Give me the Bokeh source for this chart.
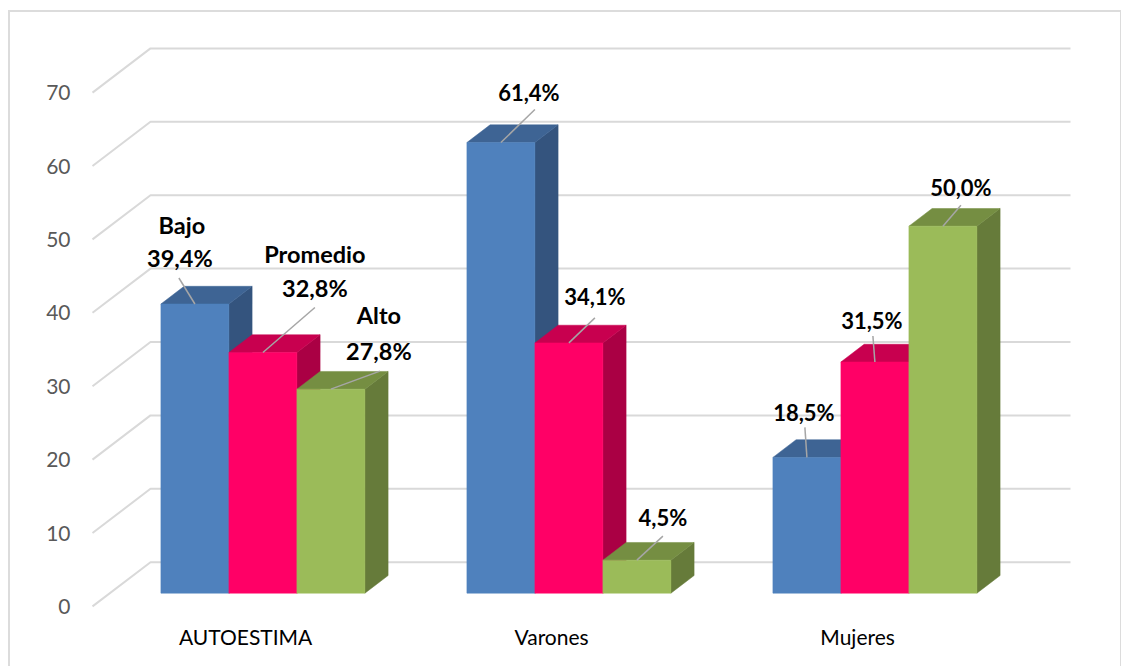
from bokeh.plotting import figure
from bokeh.embed import file_html
from bokeh.resources import INLINE
from bokeh.models import Range1d, LinearAxis, FixedTicker
from bokeh.core.properties import value

categories = ["AUTOESTIMA", "Varones", "Mujeres"]
series_names = ["Bajo", "Promedio", "Alto"]
bajo = [39.4, 61.4, 18.5]
promedio = [32.8, 34.1, 31.5]
alto = [27.8, 4.5, 50.0]
y_ticks = [0, 10, 20, 30, 40, 50, 60, 70]

front_colors = ["#4f81bd", "#ff0066", "#9bbb59"]
top_colors = ["#3e6494", "#c8004f", "#758e42"]
side_colors = ["#34547e", "#aa0044", "#667b3a"]

PX_X = 306.0   # pixels per category
PX_Y = 7.34    # pixels per value unit
ORIGIN_X = 262.4  # page x of first group's centre
ORIGIN_Y = 592.7  # page y of value 0 on the bars' plane
M_L, M_T = 10, 12  # where the figure sits on the page
W, H = 1110, 654
F_L, F_R, F_T, F_B = 80, M_L + W, M_T, 612  # frame on the page


def dx(px):
    return px / PX_X


def dy(px):
    return px / PX_Y


def px_x(page):
    return (page - ORIGIN_X) / PX_X


p = figure(width=W, height=H, output_backend="svg", toolbar_location=None,
           x_range=Range1d(px_x(F_L), px_x(F_R)),
           y_range=Range1d((ORIGIN_Y - F_B) / PX_Y, (ORIGIN_Y - F_T) / PX_Y),
           min_border_left=F_L - M_L, min_border_right=0, min_border_top=0,
           min_border_bottom=M_T + H - F_B, x_axis_location=None, y_axis_location=None)
p.margin = (M_T, 0, 0, M_L)
p.styles = {"box-shadow": "0 0 0 2px #dcdcdc"}
p.grid.visible = False
p.outline_line_color = None
p.background_fill_color = "white"

# Axes live on the front plane of the box, in front of the bars' plane
FRONT_X, FRONT_Y = -17.3, -13.2
BACK_X, BACK_Y = 40.7, 31.0
p.extra_y_ranges["front"] = Range1d(p.y_range.start - dy(FRONT_Y), p.y_range.end - dy(FRONT_Y))
p.extra_x_ranges["front"] = Range1d(p.x_range.start - dx(FRONT_X), p.x_range.end - dx(FRONT_X))

yaxis = LinearAxis(y_range_name="front", ticker=FixedTicker(ticks=y_ticks),
                   axis_line_color=None, major_tick_line_color=None, minor_tick_line_color=None,
                   major_label_text_color="#595959", major_label_text_font="Lato",
                   major_label_text_font_size="21px", major_label_standoff=4)
p.add_layout(yaxis, "left")

xaxis = LinearAxis(x_range_name="front", ticker=FixedTicker(ticks=list(range(len(categories)))),
                   major_label_overrides={i: c for i, c in enumerate(categories)},
                   axis_line_color=None, major_tick_line_color=None, minor_tick_line_color=None,
                   major_label_text_color="#000000", major_label_text_font="Lato",
                   major_label_text_font_size="21px", major_label_standoff=5)
p.add_layout(xaxis, "below")

# Wall / floor grid lines
right_end = px_x(1070)
xs_g, ys_g = [], []
for v in y_ticks:
    xs_g.append([dx(92 - ORIGIN_X), dx(150 - ORIGIN_X), right_end])
    ys_g.append([v + dy(FRONT_Y), v + dy(BACK_Y), v + dy(BACK_Y)])
p.multi_line(xs_g, ys_g, line_color="#d9d9d9", line_width=2)

# Bars as oblique boxes
BAR_W = dx(68.0)
DEPTH_X, DEPTH_Y = dx(23.2), dy(17.7)
values = [bajo, promedio, alto]
for g in range(len(categories)):
    for s, vals in enumerate(values):
        v = vals[g]
        x0 = g + (s - 1.5) * BAR_W
        x1 = x0 + BAR_W
        p.patch([x1, x1 + DEPTH_X, x1 + DEPTH_X, x1], [0, DEPTH_Y, v + DEPTH_Y, v],
                fill_color=side_colors[s], line_color=side_colors[s], line_width=0.5)
        p.patch([x0, x1, x1 + DEPTH_X, x0 + DEPTH_X], [v, v, v + DEPTH_Y, v + DEPTH_Y],
                fill_color=top_colors[s], line_color=top_colors[s], line_width=0.5)
        p.patch([x0, x1, x1, x0], [0, 0, v, v],
                fill_color=front_colors[s], line_color=front_colors[s], line_width=0.5)

# Leader ends relative to each bar's top centre (pixels: right, up)
leader_ends = [[(-16, 26), (52, 45), (49, 18)],
               [(34, 33), (26, 25), (26, 24)],
               [(-2, 30), (-2, 26), (18, 21)]]
# Label centres relative to each bar's top centre (pixels: right, up)
label_pos = [[(-15, 46), (52, 64), (48, 38)],
             [(28, 50), (26, 46), (26, 43)],
             [(-3, 45), (-3, 41), (18, 39)]]
# Series name offsets from the value label in the first group
name_off = [(2, 33), (0, 34), (0, 36)]
group_font = ["23.5px", "22px", "22px"]

leader_x, leader_y, tx, ty, tt, ts = [], [], [], [], [], []
for g in range(len(categories)):
    for s, vals in enumerate(values):
        v = vals[g]
        xc = g + (s - 1) * BAR_W
        ex, ey = leader_ends[g][s]
        leader_x.append([xc, xc + dx(ex)])
        leader_y.append([v, v + dy(ey)])
        lx, ly = label_pos[g][s]
        tx.append(xc + dx(lx))
        ty.append(v + dy(ly))
        tt.append(f"{v:.1f}%".replace(".", ","))
        ts.append(group_font[g])
        if g == 0:
            nx, ny = name_off[s]
            tx.append(xc + dx(lx + nx))
            ty.append(v + dy(ly + ny))
            tt.append(series_names[s])
            ts.append(group_font[g])

p.multi_line(leader_x, leader_y, line_color="#a6a6a6", line_width=1.5)
p.text(tx, ty, text=tt, text_font=value("Lato"), text_font_style="bold",
       text_font_size=ts, text_color="#000000", text_align="center", text_baseline="middle")

open("out.html", "w").write(file_html(p, INLINE))
